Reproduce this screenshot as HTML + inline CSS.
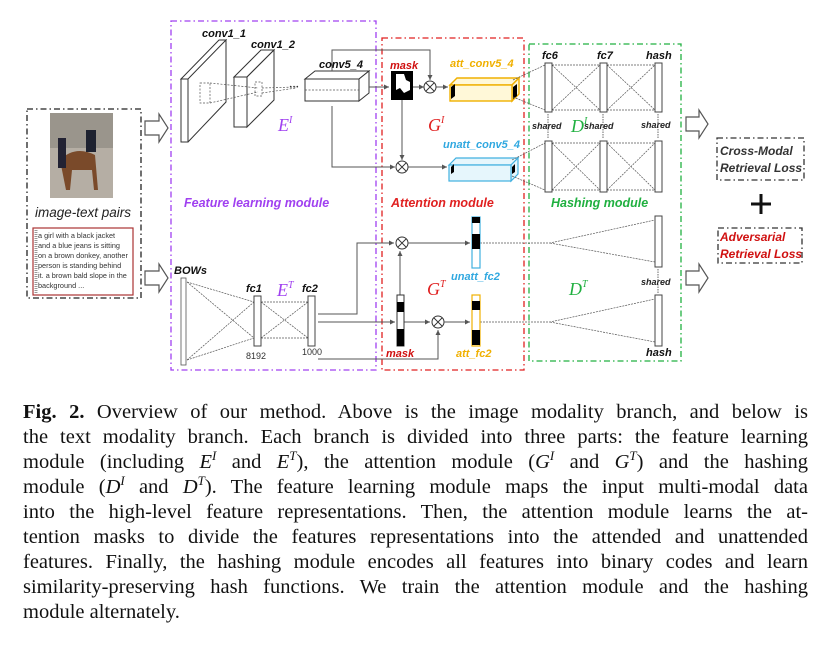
<!DOCTYPE html>
<html><head><meta charset="utf-8"><style>
html,body{margin:0;padding:0;background:#fff;width:825px;height:645px;overflow:hidden}
svg{position:absolute;left:0;top:0}
.cap{position:absolute;left:23px;width:785px;font-family:"Liberation Serif",serif;font-size:20.5px;line-height:25px;color:#111}
.cap div{text-align:justify;text-align-last:justify;height:25px;white-space:nowrap}
.cap div.last{text-align-last:left}
.s{font-family:"Liberation Sans",sans-serif;font-style:italic;font-weight:bold}
sup{font-size:13px;font-style:italic;line-height:0}
i{font-style:italic}
</style></head><body>
<svg width="825" height="380" viewBox="0 0 825 380" xmlns="http://www.w3.org/2000/svg">
<defs>
<marker id="a" markerWidth="6" markerHeight="6" refX="5" refY="3" orient="auto"><path d="M0,0.5 L5,3 L0,5.5z" fill="#555"/></marker>
</defs>
<g fill="none" stroke-width="1.3">
<rect x="27" y="109" width="114" height="189" stroke="#222" stroke-dasharray="6,3,1.5,3"/>
<rect x="171" y="21" width="205" height="349" stroke="#a040f0" stroke-dasharray="6,3,1.5,3"/>
<rect x="382" y="38" width="142" height="332" stroke="#e02020" stroke-dasharray="6,3,1.5,3"/>
<rect x="529" y="44" width="152" height="317" stroke="#20b040" stroke-dasharray="6,3,1.5,3"/>
<rect x="717" y="138" width="87" height="42" stroke="#333" stroke-dasharray="6,3,1.5,3"/>
<rect x="718" y="228" width="84" height="35" stroke="#333" stroke-dasharray="6,3,1.5,3"/>
</g>
<g fill="#fff" stroke="#555" stroke-width="1.2">
<path d="M145,121 h14 v-7 l9,14 l-9,14 v-7 h-14z"/>
<path d="M145,271 h14 v-7 l9,14 l-9,14 v-7 h-14z"/>
<path d="M686,117 h13 v-7 l9,14 l-9,14 v-7 h-13z"/>
<path d="M686,271 h13 v-7 l9,14 l-9,14 v-7 h-13z"/>
</g>
<rect x="50" y="113" width="63" height="85" fill="#b5aea4"/>
<rect x="50" y="113" width="63" height="35" fill="#9a958c"/>
<path d="M60,160 q15,-15 35,-5 l3,35 h-4 l-2,-20 h-20 l-2,20 h-4z" fill="#7a4a2a"/>
<rect x="58" y="138" width="8" height="30" fill="#223"/>
<rect x="86" y="130" width="10" height="22" fill="#1e2230"/>
<text x="35" y="217" class="s" style="font-weight:normal" font-size="13.5" fill="#222">image-text pairs</text>
<rect x="33" y="228" width="100" height="67" fill="#fff" stroke="#a33" stroke-width="1.2"/>
<line x1="36" y1="230" x2="36" y2="293" stroke="#999" stroke-width="3" stroke-dasharray="1,1"/>
<g font-family="Liberation Sans,sans-serif" font-size="7.3" fill="#333">
<text x="38" y="238">a girl with a black jacket</text>
<text x="38" y="248">and a blue jeans is sitting</text>
<text x="38" y="258">on a brown donkey, another</text>
<text x="38" y="268">person is standing behind</text>
<text x="38" y="278">it. a brown bald slope in the</text>
<text x="38" y="288">background ...</text>
</g>
<g fill="#fff" stroke="#333" stroke-width="1">
<polygon points="181,79 226,40 226,102 188,142 181,142"/>
<polygon points="181,79 188,79 226,40 219,40" />
<rect x="181" y="79" width="7" height="63"/>
<polygon points="234,77 247,77 274,50 261,50"/>
<polygon points="247,77 274,50 274,100 247,127"/>
<rect x="234" y="77" width="13" height="50"/>
<polygon points="305,79 315,71 369,71 359,79"/>
<polygon points="359,79 369,71 369,93 359,101"/>
<rect x="305" y="79" width="54" height="22"/>
</g>
<g stroke="#555" stroke-width="0.7" fill="none" stroke-dasharray="2,1.5">
<rect x="200" y="83" width="10" height="20"/><rect x="255" y="82" width="7" height="14"/>
<path d="M210,83 L258,88 M210,103 L258,92 M262,88 L296,87 M262,93 L296,88 M305,90 h54"/>
</g>
<text x="289" y="90" font-size="10" font-weight="bold" fill="#333">···</text>
<g class="s" font-size="11" fill="#111">
<text x="202" y="37">conv1_1</text><text x="251" y="48">conv1_2</text><text x="319" y="68">conv5_4</text>
<text x="174" y="274">BOWs</text><text x="246" y="292">fc1</text><text x="302" y="292">fc2</text>
<text x="542" y="59">fc6</text><text x="597" y="59">fc7</text><text x="646" y="59">hash</text>
<text x="646" y="356">hash</text>
</g>
<g class="s" font-size="9" fill="#222">
<text x="532" y="129">shared</text><text x="584" y="129">shared</text><text x="641" y="128">shared</text><text x="641" y="285">shared</text>
</g>
<g font-family="Liberation Sans,sans-serif" font-size="9" fill="#333"><text x="246" y="359">8192</text><text x="302" y="355">1000</text></g>
<rect x="391" y="71" width="22" height="29" fill="#000"/>
<path d="M396,74 h8 l2,6 l4,2 v8 l-6,3 l-4,-5 l-4,2z" fill="#fff"/>
<g stroke="#555" stroke-width="1" fill="none">
<path d="M332,71 V50 H430 V80" marker-end="url(#a)"/>
<path d="M369,87 H389" marker-end="url(#a)"/>
<path d="M413,87 H424" marker-end="url(#a)"/>
<path d="M436,87 H448" marker-end="url(#a)"/>
<path d="M332,106 V167 H395" marker-end="url(#a)"/>
<path d="M402,100 V160" marker-end="url(#a)"/>
<path d="M408,167 H447" marker-end="url(#a)"/>
</g>
<g fill="#fff" stroke="#333" stroke-width="1">
<circle cx="430" cy="87" r="6"/><circle cx="402" cy="167" r="6"/><circle cx="402" cy="243" r="6"/><circle cx="438" cy="322" r="6"/>
</g>
<g stroke="#333" stroke-width="0.9"><path d="M426,83 l8,8 M434,83 l-8,8 M398,163 l8,8 M406,163 l-8,8 M398,239 l8,8 M406,239 l-8,8 M434,318 l8,8 M442,318 l-8,8"/></g>
<g fill="#fff8d8" stroke="#f0b000" stroke-width="1.4">
<polygon points="450,85 457,78 519,78 512,85"/><polygon points="512,85 519,78 519,94 512,101"/><rect x="450" y="85" width="62" height="16"/>
</g>
<g fill="#e6f6fc" stroke="#40b0e0" stroke-width="1.2">
<polygon points="449,165 456,158 518,158 511,165"/><polygon points="511,165 518,158 518,174 511,181"/><rect x="449" y="165" width="62" height="16"/>
</g>
<path d="M451,87 l4,-3 v12 l-4,3z M513,87 l4,-3 v12 l-4,3z M451,167 l3,-3 v8 l-3,2z M512,167 l3,-3 v8 l-3,2z" fill="#000"/>
<text x="390" y="69" class="s" font-size="11" fill="#d01010">mask</text>
<text x="450" y="67" class="s" font-size="11" fill="#f0b000">att_conv5_4</text>
<text x="443" y="148" class="s" font-size="11" fill="#30a8e0">unatt_conv5_4</text>
<g stroke="#555" stroke-width="0.7" fill="none" stroke-dasharray="2,1">
<path d="M513,80 L545,65 M513,97 L545,110 M512,160 L545,143 M512,176 L545,190"/>
<path d="M552,65 H600 M552,110 H600 M552,65 L600,110 M552,110 L600,65 M607,65 H655 M607,110 H655 M607,65 L655,110 M607,110 L655,65"/>
<path d="M552,143 H600 M552,190 H600 M552,143 L600,190 M552,190 L600,143 M607,143 H655 M607,190 H655 M607,143 L655,190 M607,190 L655,143"/>
<path d="M480,243 H550 L655,220 M550,243 L655,262 M480,322 H550 L655,299 M550,322 L655,342"/>
</g>
<g fill="#fff" stroke="#444" stroke-width="1">
<rect x="545" y="63" width="7" height="49"/><rect x="600" y="63" width="7" height="49"/><rect x="655" y="63" width="7" height="49"/>
<rect x="545" y="141" width="7" height="51"/><rect x="600" y="141" width="7" height="51"/><rect x="655" y="141" width="7" height="51"/>
<rect x="655" y="216" width="7" height="51"/><rect x="655" y="295" width="7" height="51"/>
</g>
<g stroke="#444" stroke-width="0.8" stroke-dasharray="1.5,1"><path d="M548,114 V139 M603,114 V139 M658,114 V139 M658,269 V293"/></g>
<rect x="181" y="278" width="5" height="87" fill="#fff" stroke="#555" stroke-width="0.8"/>
<rect x="254" y="296" width="7" height="50" fill="#fff" stroke="#444"/>
<rect x="308" y="296" width="7" height="50" fill="#fff" stroke="#444"/>
<g stroke="#555" stroke-width="0.7" fill="none" stroke-dasharray="2,1">
<path d="M187,282 L254,302 M187,282 L254,338 M187,360 L254,302 M187,360 L254,338 M261,302 H308 M261,338 H308 M261,302 L308,338 M261,338 L308,302"/>
</g>
<g stroke="#555" stroke-width="1" fill="none">
<path d="M318,314 H357 V243 H394" marker-end="url(#a)"/>
<path d="M318,322 H395" marker-end="url(#a)"/>
<path d="M318,359 H438 V330" marker-end="url(#a)"/>
<path d="M400,295 V251" marker-end="url(#a)"/>
<path d="M404,322 H430" marker-end="url(#a)"/>
<path d="M444,322 H470" marker-end="url(#a)"/>
<path d="M408,243 H470" marker-end="url(#a)"/>
</g>
<rect x="397" y="295" width="7" height="51" fill="#fff" stroke="#333"/>
<rect x="397" y="302" width="7" height="10" fill="#000"/><rect x="397" y="329" width="7" height="17" fill="#000"/>
<rect x="472" y="217" width="8" height="51" fill="#fff" stroke="#40b0e0" stroke-width="1.2"/>
<rect x="472" y="217" width="8" height="6" fill="#000"/><rect x="472" y="234" width="8" height="15" fill="#000"/>
<rect x="472" y="295" width="8" height="51" fill="#fff" stroke="#f0b000" stroke-width="1.2"/>
<rect x="472" y="301" width="8" height="9" fill="#000"/><rect x="472" y="330" width="8" height="15" fill="#000"/>
<text x="386" y="357" class="s" font-size="11" fill="#d01010">mask</text>
<text x="456" y="357" class="s" font-size="11" fill="#f0b000">att_fc2</text>
<text x="451" y="280" class="s" font-size="11" fill="#30a8e0">unatt_fc2</text>
<text x="184" y="207" class="s" font-size="12.5" fill="#a040f0">Feature  learning module</text>
<text x="391" y="207" class="s" font-size="12.5" fill="#e02020">Attention module</text>
<text x="551" y="207" class="s" font-size="12.5" fill="#20b040">Hashing module</text>
<g font-family="Liberation Serif,serif" font-style="italic" font-size="18">
<text x="278" y="131" fill="#a040f0">E<tspan font-size="10" dy="-8">I</tspan></text>
<text x="277" y="296" fill="#a040f0">E<tspan font-size="10" dy="-8">T</tspan></text>
<text x="428" y="131" fill="#e02020">G<tspan font-size="10" dy="-8">I</tspan></text>
<text x="427" y="295" fill="#e02020">G<tspan font-size="10" dy="-8">T</tspan></text>
<text x="571" y="132" fill="#20b040">D<tspan font-size="10" dy="-8">I</tspan></text>
<text x="569" y="295" fill="#20b040">D<tspan font-size="10" dy="-8">T</tspan></text>
</g>
<g class="s" font-size="12" fill="#333">
<text x="720" y="155">Cross-Modal</text><text x="720" y="172">Retrieval Loss</text>
</g>
<g class="s" font-size="12" fill="#d01010">
<text x="720" y="241">Adversarial</text><text x="720" y="258">Retrieval Loss</text>
</g>
<path d="M751,204 H771 M761,194 V214" stroke="#111" stroke-width="3"/>
</svg>
<div class="cap" style="top:400px">
<div><b>Fig. 2.</b> Overview of our method. Above is the image modality branch, and below is</div>
<div>the text modality branch. Each branch is divided into three parts: the feature learning</div>
<div>module (including <i>E<sup>I</sup></i> and <i>E<sup>T</sup></i>), the attention module (<i>G<sup>I</sup></i> and <i>G<sup>T</sup></i>) and the hashing</div>
<div>module (<i>D<sup>I</sup></i> and <i>D<sup>T</sup></i>). The feature learning module maps the input multi-modal data</div>
<div>into the high-level feature representations. Then, the attention module learns the at-</div>
<div>tention masks to divide the features representations into the attended and unattended</div>
<div>features. Finally, the hashing module encodes all features into binary codes and learn</div>
<div>similarity-preserving hash functions. We train the attention module and the hashing</div>
<div class="last">module alternately.</div>
</div>
</body></html>
